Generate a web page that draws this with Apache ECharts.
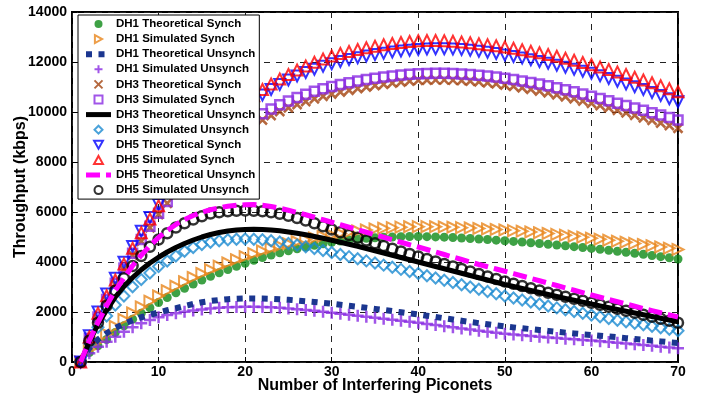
<!DOCTYPE html>
<html>
<head>
<meta charset="utf-8">
<script src="https://cdn.jsdelivr.net/npm/echarts@6/dist/echarts.min.js"></script>
<style>
html,body{margin:0;padding:0;background:#fff;}
#chart{width:704px;height:401px;}
</style>
</head>
<body>
<div id="chart"></div>
<script>
// ---- data ----
var piconets = [1,2,3,4,5,6,7,8,9,10,11,12,13,14,15,16,17,18,19,20,21,22,23,24,25,26,27,28,29,30,31,32,33,34,35,36,37,38,39,40,41,42,43,44,45,46,47,48,49,50,51,52,53,54,55,56,57,58,59,60,61,62,63,64,65,66,67,68,69,70];

var dh1TheoSynch = [0,380,650,900,1180,1450,1710,1950,2170,2380,
  2580,2770,2950,3120,3280,3430,3570,3700,3830,3950,
  4070,4180,4280,4370,4450,4530,4600,4670,4730,4790,
  4840,4880,4920,4950,4970,4990,5000,5010,5020,5020,
  5015,5005,4995,4980,4960,4940,4920,4900,4875,4850,
  4825,4800,4770,4740,4710,4680,4650,4615,4580,4545,
  4510,4470,4430,4390,4350,4310,4260,4215,4170,4120];

var dh1SimSynch = [0,500,820,1120,1420,1700,1960,2200,2430,2640,
  2850,3030,3210,3380,3540,3690,3830,3960,4090,4210,
  4330,4440,4540,4640,4730,4810,4890,4960,5020,5080,
  5140,5190,5240,5280,5320,5350,5375,5395,5410,5415,
  5415,5410,5400,5390,5375,5360,5340,5320,5300,5280,
  5255,5230,5200,5170,5140,5105,5070,5030,4990,4950,
  4910,4870,4830,4790,4745,4700,4650,4600,4550,4500];

var dh1TheoUnsynch = [0,550,900,1150,1360,1530,1670,1790,1890,1980,
  2070,2150,2240,2320,2390,2440,2480,2510,2530,2540,
  2545,2540,2530,2510,2490,2460,2430,2400,2365,2330,
  2290,2250,2210,2170,2125,2080,2035,1990,1945,1900,
  1850,1800,1750,1700,1650,1600,1555,1510,1465,1420,
  1385,1350,1315,1280,1245,1210,1175,1145,1110,1080,
  1050,1020,990,955,920,890,855,825,790,760];

var dh1SimUnsynch = [0,350,610,810,1010,1210,1390,1550,1680,1790,
  1880,1950,2010,2060,2100,2140,2170,2190,2205,2210,
  2210,2205,2190,2170,2145,2115,2085,2050,2010,1970,
  1930,1890,1850,1810,1770,1730,1690,1650,1610,1570,
  1525,1480,1435,1390,1345,1300,1255,1210,1170,1130,
  1100,1070,1040,1010,985,960,935,910,885,860,
  830,800,770,740,710,680,650,615,580,550];

var dh3TheoSynch = [0,900,1750,2450,3100,3700,4280,4830,5370,5900,
  6350,6780,7180,7550,7900,8220,8520,8800,9050,9280,
  9490,9680,9860,10020,10170,10300,10420,10530,10630,10720,
  10800,10870,10940,11000,11060,11110,11160,11200,11240,11270,
  11280,11285,11285,11275,11260,11240,11210,11170,11130,11080,
  11030,10970,10910,10840,10770,10690,10610,10530,10440,10350,
  10260,10170,10070,9970,9870,9770,9670,9560,9460,9350];

var dh3SimSynch = [0,950,1800,2500,3150,3760,4350,4900,5430,5950,
  6420,6870,7290,7680,8040,8370,8680,8970,9240,9490,
  9720,9930,10120,10290,10440,10580,10710,10830,10930,11020,
  11100,11170,11240,11300,11350,11400,11440,11480,11510,11530,
  11545,11550,11550,11540,11525,11500,11475,11445,11400,11350,
  11300,11245,11185,11120,11050,10975,10895,10810,10720,10630,
  10540,10450,10355,10260,10165,10070,9975,9880,9780,9680];

var dh3TheoUnsynch = [0,800,1500,2080,2600,3020,3380,3690,3960,4190,
  4400,4580,4740,4880,5000,5100,5180,5240,5280,5300,
  5310,5300,5280,5250,5200,5150,5090,5020,4950,4870,
  4790,4710,4630,4540,4450,4360,4270,4180,4090,4000,
  3910,3820,3730,3640,3550,3460,3370,3280,3190,3100,
  3020,2940,2860,2780,2700,2620,2545,2470,2395,2320,
  2245,2170,2100,2030,1960,1890,1820,1750,1680,1610];

var dh3SimUnsynch = [0,750,1390,1840,2280,2640,3010,3300,3560,3820,
  4040,4240,4430,4580,4700,4790,4850,4890,4910,4920,
  4910,4890,4850,4800,4740,4680,4610,4540,4460,4380,
  4300,4215,4130,4045,3960,3875,3790,3705,3620,3540,
  3450,3360,3270,3180,3090,3000,2910,2820,2730,2640,
  2560,2480,2400,2320,2240,2165,2090,2020,1950,1880,
  1810,1740,1670,1610,1550,1490,1430,1370,1310,1250];

var dh5TheoSynch = [0,1050,2000,2720,3350,3990,4620,5230,5780,6300,
  6800,7280,7730,8150,8550,8920,9270,9600,9900,10180,
  10440,10680,10900,11100,11280,11440,11580,11710,11830,11930,
  12020,12100,12170,12240,12300,12350,12400,12440,12470,12500,
  12520,12530,12530,12520,12500,12470,12430,12390,12340,12280,
  12220,12160,12090,12020,11950,11870,11790,11710,11630,11550,
  11450,11340,11230,11120,11010,10900,10780,10660,10530,10410];

var dh5SimSynch = [0,1000,1950,2650,3280,3920,4550,5170,5720,6250,
  6780,7280,7750,8195,8615,9010,9380,9730,10060,10370,
  10650,10900,11120,11320,11500,11680,11840,11990,12120,12240,
  12340,12420,12500,12570,12630,12690,12740,12780,12820,12850,
  12860,12860,12850,12830,12800,12770,12730,12690,12650,12600,
  12550,12490,12430,12370,12300,12230,12150,12070,11980,11890,
  11800,11700,11600,11500,11390,11280,11170,11050,10930,10810];

var dh5TheoUnsynch = [0,850,1580,2260,2860,3360,3850,4270,4650,4980,
  5260,5500,5700,5860,5990,6090,6170,6230,6270,6290,
  6300,6270,6220,6150,6070,5980,5890,5790,5690,5590,
  5490,5390,5290,5190,5090,4990,4890,4790,4690,4600,
  4500,4400,4300,4200,4100,4000,3900,3810,3720,3630,
  3535,3440,3345,3250,3155,3060,2965,2870,2775,2680,
  2590,2500,2410,2320,2230,2140,2055,1970,1885,1800];

var dh5SimUnsynch = [0,850,1570,2250,2850,3350,3840,4240,4610,4900,
  5150,5380,5550,5700,5830,5940,5990,6030,6050,6060,
  6050,6030,5990,5930,5850,5760,5660,5550,5430,5300,
  5190,5080,4970,4860,4750,4640,4530,4420,4320,4220,
  4120,4020,3920,3820,3720,3620,3520,3420,3320,3220,
  3130,3040,2950,2860,2770,2690,2610,2530,2450,2370,
  2290,2210,2130,2050,1970,1890,1810,1730,1650,1570];

var xTicks = [0,10,20,30,40,50,60,70];
var yTicks = [0,2000,4000,6000,8000,10000,12000,14000];

// ---- chart ----
var FONT = "'Liberation Sans', Arial, Helvetica, sans-serif";
function pairs(ys){ return ys.map(function(y,i){ return [piconets[i], y]; }); }
var CLEAR = 'rgba(0,0,0,0)';
var PLUS = 'path://M5,0L5,10M0,5L10,5';
var CROSS = 'path://M0,0L10,10M0,10L10,0';
var TRI_UP = 'path://M5,0L10,9L0,9Z';
var TRI_DOWN = 'path://M0,0L10,0L5,9Z';
var TRI_RIGHT = 'path://M0,0L9,5L0,10Z';
var SQUARE = 'path://M0,0L10,0L10,10L0,10Z';
var DIAMOND = 'path://M5,0L10,5L5,10L0,5Z';

function markers(name, ys, symbol, size, col, opts){
  opts = opts || {};
  return {
    name: name, type: 'scatter', data: pairs(ys),
    symbol: symbol, symbolSize: size,
    itemStyle: opts.filled ? {color: col} : {color: CLEAR, borderColor: col, borderWidth: opts.bw || 2},
    emphasis: {disabled: true}, silent: true, animation: false
  };
}
function line(name, ys, col, width, type){
  return {
    name: name, type: 'line', data: pairs(ys), symbol: 'none', showSymbol: false,
    itemStyle: {color: CLEAR, borderColor: CLEAR, borderWidth: 0},
    lineStyle: {color: col, width: width, type: type, cap: 'butt', join: 'round'},
    emphasis: {disabled: true}, silent: true, animation: false
  };
}

var series = [
  markers('DH1 Theoretical Synch', dh1TheoSynch, 'circle', 9, '#0e8a16', {filled: true}),
  markers('DH1 Simulated Synch', dh1SimSynch, TRI_RIGHT, 11, '#e8861c', {bw: 2}),
  line('DH1 Theoretical Unsynch', dh1TheoUnsynch, '#1b3690', 6, [6, 6.5]),
  markers('DH1 Simulated Unsynch', dh1SimUnsynch, PLUS, 12, '#8a2be2', {bw: 2.5}),
  markers('DH3 Theoretical Synch', dh3TheoSynch, CROSS, 9, '#a3420e', {bw: 2.5}),
  markers('DH3 Simulated Synch', dh3SimSynch, SQUARE, 9, '#8a2be2', {bw: 2.5}),
  line('DH3 Theoretical Unsynch', dh3TheoUnsynch, '#000000', 5, 'solid'),
  markers('DH3 Simulated Unsynch', dh3SimUnsynch, DIAMOND, 11, '#1d8bd1', {bw: 2}),
  markers('DH5 Theoretical Synch', dh5TheoSynch, TRI_DOWN, 11, '#0000ff', {bw: 2}),
  markers('DH5 Simulated Synch', dh5SimSynch, TRI_UP, 11, '#ff0000', {bw: 2}),
  line('DH5 Theoretical Unsynch', dh5TheoUnsynch, '#ff00ff', 5, [14, 6]),
  markers('DH5 Simulated Unsynch', dh5SimUnsynch, 'circle', 10, '#000000', {bw: 2.5})
];

var legendItems = series.map(function(s){
  var item = {name: s.name};
  if (s.type === 'line') {
    item.lineStyle = {width: s.lineStyle.width, type: s.lineStyle.type, color: s.lineStyle.color, cap: 'butt'};
  }
  return item;
});

var chart = echarts.init(document.getElementById('chart'), null, {renderer: 'canvas'});
chart.setOption({
  animation: false,
  backgroundColor: '#ffffff',
  grid: {left: 72, right: 26, top: 12, bottom: 39, show: true, borderColor: '#000', borderWidth: 2,
    backgroundColor: 'transparent', containLabel: false, outerBoundsMode: 'none'},
  xAxis: {
    type: 'value', min: xTicks[0], max: xTicks[xTicks.length-1], interval: 10,
    name: 'Number of Interfering Piconets', nameLocation: 'middle', nameGap: 16, nameMoveOverlap: false,
    nameTextStyle: {fontFamily: FONT, fontWeight: 'bold', fontSize: 16, color: '#000'},
    axisLine: {show: false},
    axisTick: {show: true, inside: true, length: 5, lineStyle: {color: '#000', width: 1}},
    axisLabel: {fontFamily: FONT, fontWeight: 'bold', fontSize: 14, color: '#000', margin: 3},
    splitLine: {show: true, lineStyle: {color: '#222', width: 1, type: [6, 6]}}
  },
  yAxis: {
    type: 'value', min: yTicks[0], max: yTicks[yTicks.length-1], interval: 2000,
    name: 'Throughput (kbps)', nameLocation: 'middle', nameGap: 43, nameMoveOverlap: false,
    nameTextStyle: {fontFamily: FONT, fontWeight: 'bold', fontSize: 16, color: '#000'},
    axisLine: {show: false},
    axisTick: {show: true, inside: true, length: 5, lineStyle: {color: '#000', width: 1}},
    axisLabel: {fontFamily: FONT, fontWeight: 'bold', fontSize: 14, color: '#000', margin: 5,
      formatter: function(v){ return String(v); }},
    splitLine: {show: true, lineStyle: {color: '#222', width: 1, type: [6, 6]}}
  },
  legend: {
    orient: 'vertical', left: 78, top: 15,
    padding: [3, 4, 3, 5], itemGap: 3.1, itemWidth: 25, itemHeight: 8,
    backgroundColor: '#fff', borderColor: '#000', borderWidth: 1,
    textStyle: {fontFamily: FONT, fontWeight: 'bold', fontSize: 11.5, color: '#000'},
    selectedMode: false,
    data: legendItems
  },
  series: series
});
</script>
</body>
</html>
